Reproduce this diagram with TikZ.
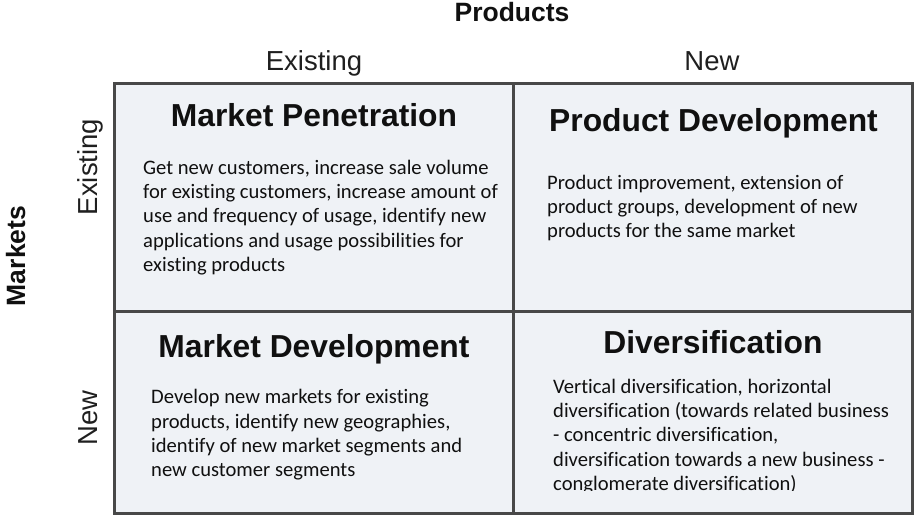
\documentclass[tikz,border=0pt]{standalone}
\usepackage{fontspec}
\setmainfont[Ligatures=NoCommon]{Carlito}
\newfontfamily\arialfont{Liberation Sans}
\definecolor{cellfill}{RGB}{239,242,246}
\definecolor{gridline}{RGB}{72,72,72}
\definecolor{ink}{RGB}{16,16,16}
\begin{document}
\begin{tikzpicture}[x=1pt,y=-1pt,
  gridstyle/.style={draw=gridline,line width=3pt},
  title/.style={anchor=base,inner sep=0pt,text=ink,font=\arialfont\bfseries\fontsize{31.8}{36}\selectfont},
  axis/.style={anchor=base,inner sep=0pt,text=black!88,font=\arialfont\fontsize{27.5}{32}\selectfont},
  axistitle/.style={anchor=base,inner sep=0pt,text=ink,font=\arialfont\bfseries\fontsize{26.5}{32}\selectfont},
  body/.style={anchor=base west,inner sep=0pt,text=ink,font=\fontsize{20.6}{24.2}\selectfont}]
\useasboundingbox (0,0) rectangle (919,521);

% the four cells of the matrix
\fill[cellfill] (114,84) rectangle (912.5,513);
\draw[gridstyle] (114,84) rectangle (912.5,513);
\draw[gridstyle] (513,84) -- (513,513);
\draw[gridstyle] (114,312) -- (912.5,312);

% axis labels
\node[axistitle] (products) at (512,22) {Products};
\node[axis] (pexist) at (314,71) {Existing};
\node[axis] (pnew) at (712,71) {New};
\node[axistitle,rotate=90] (markets) at (25,256) {Markets};
\node[axis,rotate=90] (mexist) at (97,167) {Existing};
\node[axis,rotate=90] (mnew) at (97,418) {New};

% cell titles
\node[title] (mp) at (314,127) {Market Penetration};
\node[title] (pd) at (713.5,132) {Product Development};
\node[title] (md) at (314,358) {Market Development};
\node[title] (dv) at (713,354) {Diversification};

% cell descriptions
\node[body] (mptext) at (143,174.5) {\parbox[t]{370pt}{Get new customers, increase sale volume\\
for existing customers, increase amount of\\
use and frequency of usage, identify new\\
applications and usage possibilities for\\
existing products}};
\node[body] (pdtext) at (547,189.5) {\parbox[t]{360pt}{Product improvement, extension of\\
product groups, development of new\\
products for the same market}};
\node[body] (mdtext) at (151,404) {\parbox[t]{360pt}{Develop new markets for existing\\
products, identify new geographies,\\
identify of new market segments and\\
new customer segments}};
\begin{scope}
  \clip (515,314) rectangle (911,490.5);
  \node[body] (dvtext) at (553,393.5) {\parbox[t]{360pt}{Vertical diversification, horizontal\\
diversification (towards related business\\
- concentric diversification,\\
diversification towards a new business -\\
conglomerate diversification)}};
\end{scope}
\end{tikzpicture}
\end{document}
